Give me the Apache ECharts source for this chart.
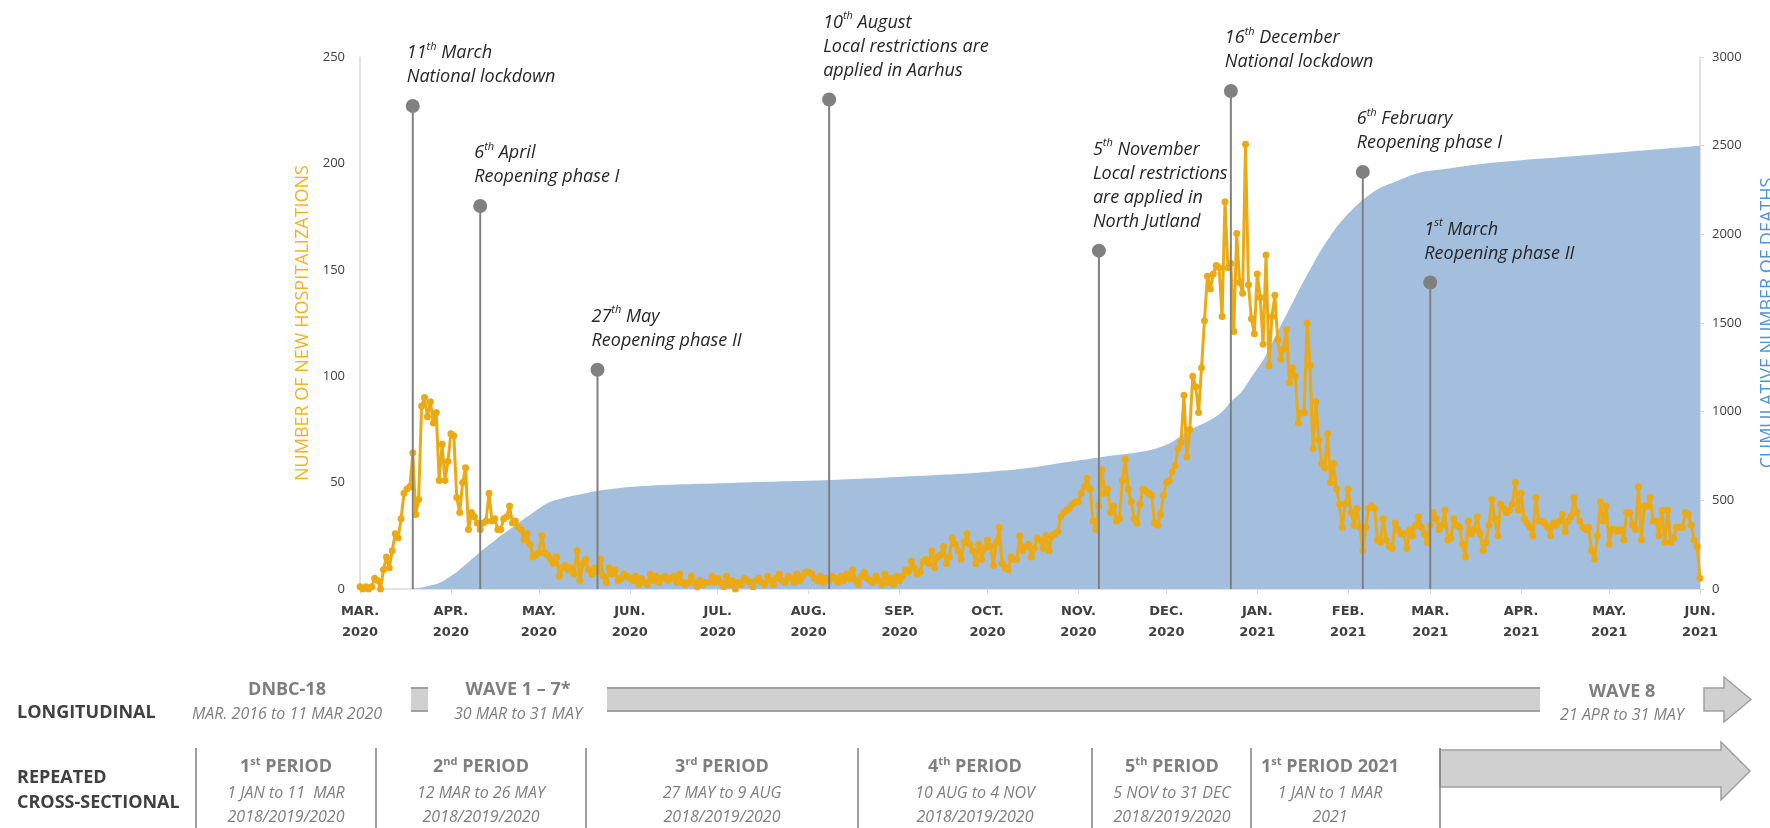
<!DOCTYPE html>
<html>
<head>
<meta charset="utf-8">
<script src="https://cdn.jsdelivr.net/npm/echarts@6/dist/echarts.min.js"></script>
<style>
  html, body { margin: 0; padding: 0; background: #fff; }
  #main { width: 1770px; height: 828px; }
</style>
</head>
<body>
<div id="main"></div>
<script>
// daily new hospitalizations, one array per month
var mar20 = [1, 0, 1, 0, 1, 5, 4, 0, 9, 15, 10, 18, 26, 24, 33, 45, 47, 48, 64, 35, 42, 86, 90, 81, 88, 78, 83, 51, 68, 51, 60]
var apr20 = [73, 72, 43, 36, 50, 57, 28, 36, 34, 31, 28, 31, 32, 45, 32, 33, 28, 28, 33, 34, 39, 31, 32, 29, 28, 23, 26, 21, 15, 16]
var may20 = [17, 25, 17, 16, 14, 12, 15, 6, 10, 11, 9, 10, 7, 18, 4, 12, 14, 9, 7, 10, 8, 14, 6, 3, 10, 7, 9, 4, 5, 7, 6]
var jun20 = [5, 4, 6, 2, 5, 3, 2, 7, 4, 6, 3, 5, 6, 4, 5, 6, 3, 7, 3, 2, 3, 6, 3, 1, 4, 2, 3, 3, 6, 3]
var jul20 = [5, 3, 1, 6, 2, 4, 0, 3, 2, 5, 4, 3, 1, 4, 5, 3, 2, 6, 4, 2, 5, 7, 4, 3, 6, 5, 3, 7, 4, 6, 8]
var aug20 = [8, 7, 5, 4, 6, 3, 5, 4, 6, 5, 3, 6, 4, 7, 5, 9, 4, 2, 6, 8, 5, 4, 3, 6, 4, 2, 7, 3, 5, 2, 6]
var sep20 = [4, 6, 9, 8, 13, 10, 7, 8, 13, 14, 12, 18, 10, 15, 16, 20, 12, 15, 24, 21, 18, 14, 22, 26, 21, 18, 12, 21, 14, 19]
var oct20 = [23, 20, 11, 22, 29, 12, 10, 9, 15, 14, 14, 25, 18, 20, 21, 15, 19, 24, 23, 19, 25, 18, 25, 26, 27, 34, 36, 37, 38, 40, 41]
var nov20 = [41, 45, 48, 52, 47, 32, 28, 39, 56, 45, 47, 36, 39, 32, 33, 51, 61, 47, 41, 33, 31, 40, 47, 46, 45, 44, 31, 30, 35, 44]
var dec20 = [50, 51, 55, 58, 66, 69, 91, 62, 75, 100, 95, 83, 104, 126, 147, 141, 148, 152, 151, 128, 182, 151, 153, 121, 167, 144, 139, 209, 143, 127, 120]
var jan21 = [148, 137, 115, 157, 105, 128, 138, 117, 108, 113, 122, 97, 104, 100, 78, 83, 83, 125, 105, 66, 88, 70, 59, 57, 73, 50, 59, 47, 40, 29, 40]
var feb21 = [47, 36, 30, 38, 29, 18, 29, 38, 39, 38, 23, 22, 33, 23, 20, 19, 31, 28, 26, 26, 19, 28, 25, 30, 34, 29, 26, 22]
var mar21 = [30, 36, 33, 28, 30, 37, 23, 24, 33, 30, 29, 21, 15, 32, 26, 28, 34, 26, 18, 22, 30, 42, 33, 25, 40, 38, 36, 37, 40, 50, 37]
var apr21 = [45, 33, 31, 29, 25, 43, 32, 32, 31, 29, 25, 31, 30, 32, 35, 27, 32, 34, 43, 36, 32, 29, 28, 29, 18, 14, 25, 41, 32, 39]
var may21 = [21, 28, 28, 27, 28, 23, 36, 36, 30, 28, 48, 23, 39, 39, 43, 32, 32, 25, 37, 22, 37, 22, 24, 29, 29, 29, 36, 35, 30, 23, 20]
var jun21 = [5]

// cumulative deaths, read at dates along the edge of the blue area
var deathDates = ['2020-03-18', '2020-03-21', '2020-03-25', '2020-03-28', '2020-03-31', '2020-04-03', '2020-04-06',
  '2020-04-09', '2020-04-13', '2020-04-17', '2020-04-21', '2020-04-24', '2020-04-29', '2020-05-04', '2020-05-09',
  '2020-05-14', '2020-05-21', '2020-06-01', '2020-06-19', '2020-07-05', '2020-07-24', '2020-08-08', '2020-09-01',
  '2020-09-17', '2020-10-01', '2020-10-15', '2020-10-26', '2020-11-02', '2020-11-09', '2020-11-18', '2020-11-26',
  '2020-12-02', '2020-12-09', '2020-12-16', '2020-12-20', '2020-12-23', '2020-12-27', '2020-12-30', '2021-01-03',
  '2021-01-06', '2021-01-10', '2021-01-13', '2021-01-16', '2021-01-19', '2021-01-22', '2021-01-25', '2021-01-28',
  '2021-01-31', '2021-02-03', '2021-02-06', '2021-02-09', '2021-02-12', '2021-02-17', '2021-02-25', '2021-03-08',
  '2021-03-22', '2021-04-16', '2021-05-10', '2021-06-01']
var deathValues = [0, 5, 20, 34, 62, 96, 138, 180, 235, 288, 335, 372, 430, 485, 512,
  530, 553, 575, 590, 598, 607, 615, 632, 645, 660, 682, 710, 727, 745, 762, 785,
  820, 897, 953, 1000, 1055, 1120, 1196, 1290, 1387, 1517, 1613, 1710, 1800, 1890, 1968, 2040,
  2098, 2150, 2194, 2232, 2262, 2296, 2346, 2372, 2403, 2437, 2470, 2500]

// events: where each pin stands in the figure, its height and its text
var eventPos = ['2020-03-19', '2020-04-11', '2020-05-21', '2020-08-08', '2020-11-08', '2020-12-23', '2021-02-06', '2021-03-01']
var eventHeight = [227, 180, 103, 230, 159, 234, 196, 144]
var eventText = [
  '{n|11}{s|th}{n| March}\n{n|National lockdown}',
  '{n|6}{s|th}{n| April}\n{n|Reopening phase I}',
  '{n|27}{s|th}{n| May}\n{n|Reopening phase II}',
  '{n|10}{s|th}{n| August}\n{n|Local restrictions are}\n{n|applied in Aarhus}',
  '{n|5}{s|th}{n| November}\n{n|Local restrictions}\n{n|are applied in}\n{n|North Jutland}',
  '{n|16}{s|th}{n| December}\n{n|National lockdown}',
  '{n|6}{s|th}{n| February}\n{n|Reopening phase I}',
  '{n|1}{s|st}{n| March}\n{n|Reopening phase II}',
]

var monthNames = ['JAN.', 'FEB.', 'MAR.', 'APR.', 'MAY.', 'JUN.', 'JUL.', 'AUG.', 'SEP.', 'OCT.', 'NOV.', 'DEC.']

// study design panel under the chart
var periodHeads = ['{h|1}{s|st}{h| PERIOD}', '{h|2}{s|nd}{h| PERIOD}', '{h|3}{s|rd}{h| PERIOD}',
  '{h|4}{s|th}{h| PERIOD}', '{h|5}{s|th}{h| PERIOD}', '{h|1}{s|st}{h| PERIOD 2021}']
var periodDates = ['1 JAN to 11  MAR', '12 MAR to 26 MAY', '27 MAY to 9 AUG', '10 AUG to 4 NOV', '5 NOV to 31 DEC', '1 JAN to 1 MAR']
var periodYears = ['2018/2019/2020', '2018/2019/2020', '2018/2019/2020', '2018/2019/2020', '2018/2019/2020', '2021']

var days = []
var dt = new Date(Date.UTC(2020, 2, 1))
while (dt.getTime() <= Date.UTC(2021, 5, 1)) {
  days.push(dt.toISOString().slice(0, 10))
  dt.setUTCDate(dt.getUTCDate() + 1)
}
var hosp = [].concat(mar20, apr20, may20, jun20, jul20, aug20, sep20, oct20, nov20, dec20, jan21, feb21, mar21, apr21, may21, jun21)
var deaths = deathDates.map(function (d, i) { return [d, deathValues[i]] })
var events = eventPos.map(function (d, i) { return [d, eventHeight[i]] })

var isMonthStart = function (i, v) { return v.slice(8) === '01' }
var FONT = '"Open Sans", "Noto Sans", sans-serif'
var grey = '#7f7f7f'

var pinRich = {
  n: { fontFamily: FONT, fontStyle: 'italic', fontSize: 18, lineHeight: 24, fill: '#262626' },
  s: { fontFamily: FONT, fontStyle: 'italic', fontSize: 11, lineHeight: 13, verticalAlign: 'top', fill: '#262626' },
}
var headRich = {
  h: { fontFamily: FONT, fontWeight: 'bold', fontSize: 18, lineHeight: 22, fill: grey },
  s: { fontFamily: FONT, fontWeight: 'bold', fontSize: 11, lineHeight: 12, verticalAlign: 'top', fill: grey },
}

function text(x, y, str, opts) {
  opts = opts || {}
  return {
    type: 'text', x: x, y: y, silent: true,
    style: {
      text: str,
      fill: opts.fill || grey,
      font: opts.font || ('italic 16px ' + FONT),
      rich: opts.rich,
      align: opts.align || 'center', textAlign: opts.align || 'center',
      verticalAlign: 'middle', textVerticalAlign: 'middle',
    },
  }
}
function bar(x1, x2, y1, y2) {
  return [
    { type: 'rect', shape: { x: x1, y: y1, width: x2 - x1, height: y2 - y1 }, style: { fill: '#d0d0d0' } },
    { type: 'line', shape: { x1: x1, y1: y1, x2: x2, y2: y1 }, style: { stroke: '#a0a0a0', lineWidth: 2 } },
    { type: 'line', shape: { x1: x1, y1: y2, x2: x2, y2: y2 }, style: { stroke: '#a0a0a0', lineWidth: 2 } },
  ]
}
function arrow(x1, xh, xt, y1, y2, h1, h2) {
  var ym = (h1 + h2) / 2
  return {
    type: 'polygon',
    shape: { points: [[x1, y1], [xh, y1], [xh, h1], [xt, ym], [xh, h2], [xh, y2], [x1, y2]] },
    style: { fill: '#d0d0d0', stroke: '#a0a0a0', lineWidth: 1.5 },
  }
}

var graphics = []
graphics.push(text(17, 713, 'LONGITUDINAL', { font: 'bold 18px ' + FONT, fill: '#404040', align: 'left' }))
graphics.push(text(17, 778, 'REPEATED', { font: 'bold 18px ' + FONT, fill: '#404040', align: 'left' }))
graphics.push(text(17, 803, 'CROSS-SECTIONAL', { font: 'bold 18px ' + FONT, fill: '#404040', align: 'left' }))
graphics.push(text(287, 690, 'DNBC-18', { font: 'bold 18px ' + FONT }))
graphics.push(text(287, 714, 'MAR. 2016 to 11 MAR 2020'))
graphics.push(text(518, 690, 'WAVE 1 \u2013 7*', { font: 'bold 18px ' + FONT }))
graphics.push(text(518, 714, '30 MAR to 31 MAY'))
graphics.push(text(1622, 692, 'WAVE 8', { font: 'bold 18px ' + FONT }))
graphics.push(text(1622, 715, '21 APR to 31 MAY'))
graphics = graphics.concat(bar(411, 428, 688, 711), bar(607, 1540, 688, 711))
graphics.push(arrow(1704, 1724, 1751, 688, 711, 677, 722))
graphics.push(arrow(1440, 1721, 1750, 750, 787, 742, 800))
;[196, 376, 586, 858, 1092, 1251, 1440].forEach(function (x) {
  graphics.push({ type: 'line', shape: { x1: x, y1: 748, x2: x, y2: 828 }, style: { stroke: grey, lineWidth: 1.5 } })
})
;[286, 481, 722, 975, 1172, 1330].forEach(function (cx, i) {
  graphics.push(text(cx, 767, periodHeads[i], { rich: headRich }))
  graphics.push(text(cx, 793, periodDates[i]))
  graphics.push(text(cx, 817, periodYears[i]))
})

var myChart = echarts.init(document.getElementById('main'))
var option = {
  animation: false,
  backgroundColor: '#fff',
  grid: { left: 360, right: 70, top: 57, bottom: 239, containLabel: false, outerBoundsMode: 'none' },
  xAxis: {
    type: 'category',
    data: days,
    boundaryGap: false,
    axisLine: { lineStyle: { color: '#d9d9d9', width: 1.5 } },
    axisTick: { interval: isMonthStart, length: 5, lineStyle: { color: '#d9d9d9' } },
    axisLabel: {
      interval: isMonthStart,
      formatter: function (v) { return monthNames[+v.slice(5, 7) - 1] + '\n' + v.slice(0, 4) },
      color: '#404040', fontFamily: '"DejaVu Sans", sans-serif', fontWeight: 'bold', fontSize: 13,
      lineHeight: 21, margin: 12,
    },
    splitLine: { show: false },
  },
  yAxis: [
    {
      type: 'value', min: 0, max: 250, interval: 50,
      name: 'NUMBER OF NEW HOSPITALIZATIONS', nameLocation: 'middle', nameGap: 48, nameRotate: 90,
      nameTextStyle: { color: '#F0B323', fontSize: 18, fontFamily: FONT },
      axisLine: { show: true, lineStyle: { color: '#d9d9d9', width: 1.5 } },
      axisTick: { show: false },
      axisLabel: { color: '#404040', fontSize: 13, fontFamily: FONT, margin: 15 },
      splitLine: { show: false },
    },
    {
      type: 'value', min: 0, max: 3000, interval: 500, position: 'right',
      name: 'CUMULATIVE NUMBER OF DEATHS', nameLocation: 'middle', nameGap: 59, nameRotate: 90,
      nameTextStyle: { color: '#4F94D4', fontSize: 18, fontFamily: FONT },
      axisLine: { show: true, lineStyle: { color: '#d9d9d9', width: 1.5 } },
      axisTick: { show: true, length: 4, lineStyle: { color: '#d9d9d9' } },
      axisLabel: { color: '#404040', fontSize: 13, fontFamily: FONT, margin: 12, formatter: function (v) { return String(v) } },
      splitLine: { show: false },
    },
  ],
  series: [
    {
      name: 'Cumulative deaths',
      type: 'line',
      yAxisIndex: 1,
      data: deaths,
      smooth: 0.3,
      symbol: 'none',
      lineStyle: { width: 0 },
      areaStyle: { color: '#A3BFDD', opacity: 1 },
      z: 1,
    },
    {
      name: 'New hospitalizations',
      type: 'line',
      yAxisIndex: 0,
      data: hosp,
      symbol: 'circle',
      symbolSize: 7,
      showAllSymbol: true,
      itemStyle: { color: '#EBAA14' },
      lineStyle: { color: '#EBAA14', width: 3 },
      z: 2,
    },
    {
      name: 'Events',
      type: 'custom',
      yAxisIndex: 0,
      data: events,
      clip: false,
      z: 3,
      renderItem: function (params, api) {
        var top = api.coord([api.value(0), api.value(1)])
        var base = api.coord([api.value(0), 0])
        return {
          type: 'group',
          children: [
            { type: 'line', shape: { x1: top[0], y1: base[1], x2: top[0], y2: top[1] }, style: { stroke: '#808080', lineWidth: 2 } },
            { type: 'circle', shape: { cx: top[0], cy: top[1], r: 7 }, style: { fill: '#808080' } },
            {
              type: 'text', x: top[0] - 6, y: top[1] - 17,
              style: {
                text: eventText[params.dataIndex], rich: pinRich,
                align: 'left', textAlign: 'left', verticalAlign: 'bottom', textVerticalAlign: 'bottom',
              },
            },
          ],
        }
      },
    },
  ],
  graphic: graphics,
}
myChart.setOption(option)
</script>
</body>
</html>
